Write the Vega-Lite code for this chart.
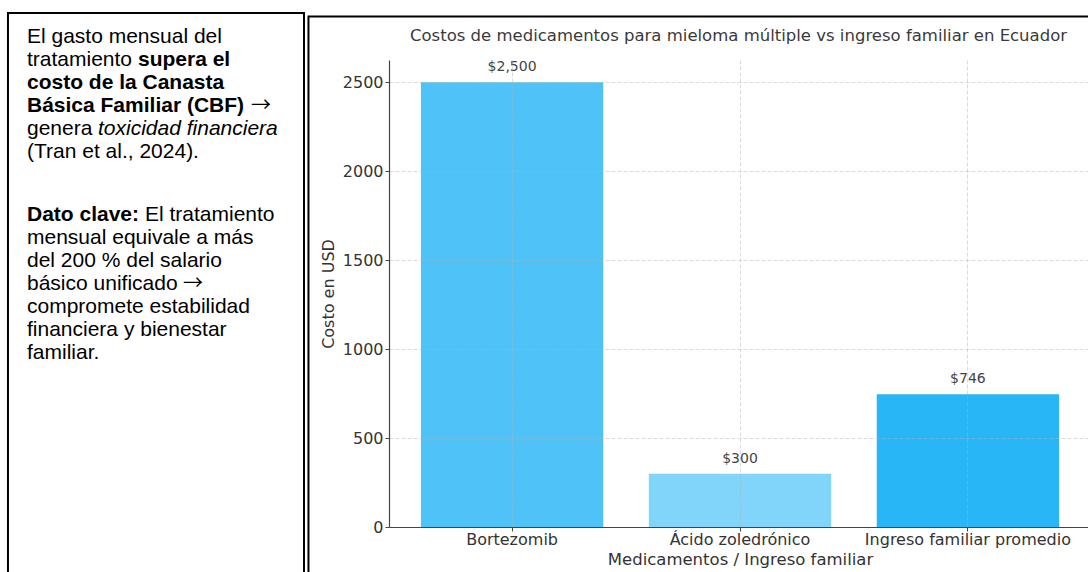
{
  "$schema": "https://vega.github.io/schema/vega-lite/v6.json",
  "autosize": "none",
  "padding": {"left": 389, "top": 60, "right": 0, "bottom": 45},
  "width": 699,
  "height": 467,
  "background": "white",
  "config": {"view": {"stroke": null}, "font": "DejaVu Sans"},
  "title": {
    "text": "Costos de medicamentos para mieloma múltiple vs ingreso familiar en Ecuador",
    "font": "DejaVu Sans",
    "fontSize": 16.5,
    "fontWeight": "normal",
    "color": "#3a3a3a",
    "anchor": "middle",
    "frame": "group",
    "baseline": "alphabetic",
    "offset": -46
  },
  "layer": [
    {
      "data": {
        "values": [
          {"item": "Bortezomib", "costo": 2500},
          {"item": "Ácido zoledrónico", "costo": 300},
          {"item": "Ingreso familiar promedio", "costo": 746}
        ]
      },
      "encoding": {
        "x": {
          "field": "item",
          "type": "nominal",
          "sort": null,
          "scale": {"range": [0, 702], "paddingInner": 0.2, "paddingOuter": 0.14},
          "axis": {
            "title": "Medicamentos / Ingreso familiar",
            "labelAngle": 0,
            "labelLimit": 400,
            "labelFont": "DejaVu Sans",
            "labelFontSize": 16,
            "labelColor": "#333333",
            "titleFont": "DejaVu Sans",
            "titleFontSize": 16.5,
            "titleFontWeight": "normal",
            "titleColor": "#333333",
            "tickSize": 4,
            "tickColor": "#444444",
            "labelPadding": 0,
            "titlePadding": 4,
            "domainColor": "#444444",
            "domainWidth": 1.2,
            "grid": true,
            "bandPosition": 0.5,
            "gridDash": [4, 2],
            "gridColor": "#b0b0b0",
            "gridOpacity": 0.6,
            "gridWidth": 0.8,
            "zindex": 1
          }
        },
        "y": {
          "field": "costo",
          "type": "quantitative",
          "scale": {"domain": [0, 2625], "nice": false},
          "axis": {
            "title": "Costo en USD",
            "values": [0, 500, 1000, 1500, 2000, 2500],
            "format": "d",
            "labelFont": "DejaVu Sans",
            "labelFontSize": 16,
            "labelColor": "#333333",
            "titleFont": "DejaVu Sans",
            "titleFontSize": 16,
            "titleFontWeight": "normal",
            "titleColor": "#333333",
            "tickSize": 4,
            "tickColor": "#444444",
            "labelPadding": 2,
            "titlePadding": 6,
            "domainColor": "#444444",
            "domainWidth": 1.2,
            "grid": true,
            "gridDash": [4, 2],
            "gridColor": "#b0b0b0",
            "gridOpacity": 0.6,
            "gridWidth": 0.8,
            "zindex": 1
          }
        }
      },
      "layer": [
        {
          "mark": {"type": "bar"},
          "encoding": {
            "color": {
              "field": "item",
              "type": "nominal",
              "scale": {
                "domain": ["Bortezomib", "Ácido zoledrónico", "Ingreso familiar promedio"],
                "range": ["#4FC3F7", "#81D4FA", "#29B6F6"]
              },
              "legend": null
            }
          }
        },
        {
          "mark": {"type": "text", "baseline": "alphabetic", "dy": -11, "fontSize": 14, "font": "DejaVu Sans", "color": "#444444"},
          "encoding": {"text": {"field": "costo", "type": "quantitative", "format": "$,.0f"}}
        }
      ]
    },
    {
      "layer": [
        {
          "data": {"values": [{"box": "texto"}]},
          "mark": {"type": "rect", "fill": "transparent", "stroke": "black", "strokeWidth": 2, "clip": false},
          "encoding": {
            "x": {"datum": -0.5451, "type": "quantitative", "scale": {"domain": [0, 1], "nice": false, "zero": false}, "axis": null},
            "x2": {"datum": -0.1216},
            "y": {"datum": -0.30435, "type": "quantitative", "scale": {"domain": [1.73913, 22.04348], "reverse": true, "nice": false, "zero": false}, "axis": null},
            "y2": {"datum": 26}
          }
        },
        {
          "data": {"values": [{"box": "grafico"}]},
          "mark": {"type": "rect", "fill": "transparent", "stroke": "black", "strokeWidth": 2, "clip": false},
          "encoding": {
            "x": {"datum": -0.1152, "type": "quantitative"},
            "x2": {"datum": 1.05},
            "y": {"datum": -0.15217, "type": "quantitative"},
            "y2": {"datum": 26}
          }
        },
        {
          "data": {"values": [
            {"line": 1, "t": "El gasto mensual del"},
            {"line": 2, "t": "tratamiento"},
            {"line": 5, "t": "genera"},
            {"line": 6, "t": "(Tran et al., 2024)."}
          ]},
          "mark": {"type": "text", "align": "left", "baseline": "alphabetic", "font": "Liberation Sans", "fontSize": 21, "color": "black"},
          "encoding": {
            "x": {"datum": -0.5179, "type": "quantitative"},
            "y": {"field": "line", "type": "quantitative"},
            "text": {"field": "t"}
          }
        },
        {
          "data": {"values": [
            {"line": 3, "t": "costo de la Canasta"},
            {"line": 4, "t": "Básica Familiar (CBF)"}
          ]},
          "mark": {"type": "text", "align": "left", "baseline": "alphabetic", "font": "Liberation Sans", "fontSize": 21, "fontWeight": "bold", "color": "black"},
          "encoding": {
            "x": {"datum": -0.5179, "type": "quantitative"},
            "y": {"field": "line", "type": "quantitative"},
            "text": {"field": "t"}
          }
        },
        {
          "data": {"values": [{"line": 2, "t": "supera el"}]},
          "mark": {"type": "text", "align": "left", "baseline": "alphabetic", "font": "Liberation Sans", "fontSize": 21, "fontWeight": "bold", "color": "black", "dx": 111},
          "encoding": {
            "x": {"datum": -0.5179, "type": "quantitative"},
            "y": {"field": "line", "type": "quantitative"},
            "text": {"field": "t"}
          }
        },
        {
          "data": {"values": [{"line": 4, "t": "→"}]},
          "mark": {"type": "text", "align": "left", "baseline": "alphabetic", "font": "Noto Sans CJK JP", "fontSize": 20, "color": "black", "dx": 224},
          "encoding": {
            "x": {"datum": -0.5179, "type": "quantitative"},
            "y": {"field": "line", "type": "quantitative"},
            "text": {"field": "t"}
          }
        },
        {
          "data": {"values": [{"line": 5, "t": "toxicidad financiera"}]},
          "mark": {"type": "text", "align": "left", "baseline": "alphabetic", "font": "Liberation Sans", "fontSize": 21, "fontStyle": "italic", "color": "black", "dx": 71},
          "encoding": {
            "x": {"datum": -0.5179, "type": "quantitative"},
            "y": {"field": "line", "type": "quantitative"},
            "text": {"field": "t"}
          }
        },
        {
          "data": {"values": [{"line": 8, "t": "Dato clave:"}]},
          "mark": {"type": "text", "align": "left", "baseline": "alphabetic", "font": "Liberation Sans", "fontSize": 21, "fontWeight": "bold", "color": "black", "dy": 17},
          "encoding": {
            "x": {"datum": -0.5179, "type": "quantitative"},
            "y": {"field": "line", "type": "quantitative"},
            "text": {"field": "t"}
          }
        },
        {
          "data": {"values": [{"line": 8, "t": "El tratamiento"}]},
          "mark": {"type": "text", "align": "left", "baseline": "alphabetic", "font": "Liberation Sans", "fontSize": 21, "color": "black", "dx": 118, "dy": 17},
          "encoding": {
            "x": {"datum": -0.5179, "type": "quantitative"},
            "y": {"field": "line", "type": "quantitative"},
            "text": {"field": "t"}
          }
        },
        {
          "data": {"values": [{"line": 11, "t": "→"}]},
          "mark": {"type": "text", "align": "left", "baseline": "alphabetic", "font": "Noto Sans CJK JP", "fontSize": 20, "color": "black", "dx": 156, "dy": 17},
          "encoding": {
            "x": {"datum": -0.5179, "type": "quantitative"},
            "y": {"field": "line", "type": "quantitative"},
            "text": {"field": "t"}
          }
        },
        {
          "data": {"values": [
            {"line": 9, "t": "mensual equivale a más"},
            {"line": 10, "t": "del 200 % del salario"},
            {"line": 11, "t": "básico unificado"},
            {"line": 12, "t": "compromete estabilidad"},
            {"line": 13, "t": "financiera y bienestar"},
            {"line": 14, "t": "familiar."}
          ]},
          "mark": {"type": "text", "align": "left", "baseline": "alphabetic", "font": "Liberation Sans", "fontSize": 21, "color": "black", "dy": 17},
          "encoding": {
            "x": {"datum": -0.5179, "type": "quantitative"},
            "y": {"field": "line", "type": "quantitative"},
            "text": {"field": "t"}
          }
        }
      ]
    }
  ],
  "resolve": {"scale": {"x": "independent", "y": "independent"}}
}
